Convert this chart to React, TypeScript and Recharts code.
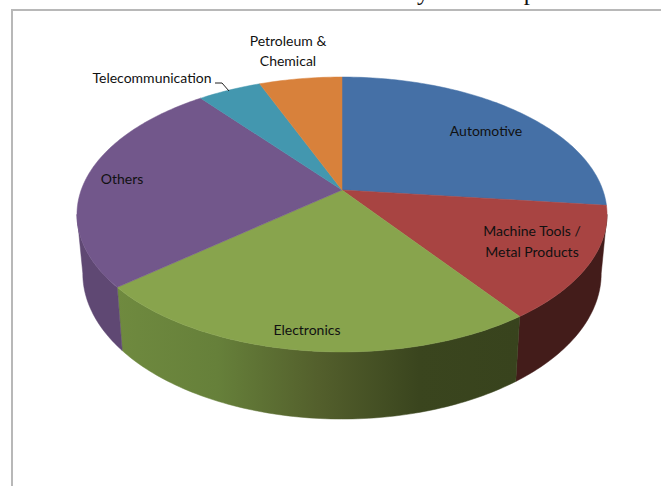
import { Pie, PieChart } from 'recharts'

const sectors = ['Automotive', 'Machine Tools / Metal Products', 'Electronics', 'Others', 'Telecommunication', 'Petroleum & Chemical']
const shares = [26.8, 13.3, 23.7, 25.6, 4.6, 6.0]
const topColors = ['#4570a6', '#a84442', '#88a44d', '#72578b', '#4397af', '#d8813b']
const wallColors = ['#2f4d73', '#431c1a', 'url(#greenWall)', '#5f4873', '#2f6a7a', '#96582a']

const chartData = sectors.map((name, i) => ({ name, value: shares[i], fill: topColors[i], wall: wallColors[i] }))

// hand placed label lines, one entry per sector
const labelLayout = [
  { x: 486, ys: [136], lines: ['Automotive'] },
  { x: 532, ys: [236, 257], lines: ['Machine Tools /', 'Metal Products'] },
  { x: 307, ys: [335], lines: ['Electronics'] },
  { x: 122, ys: [184], lines: ['Others'] },
  { x: 152, ys: [83], lines: ['Telecommunication'] },
  { x: 288, ys: [46, 66], lines: ['Petroleum &', 'Chemical'] },
]

// perspective of the tilted disc: top face and bottom face of the pie
const tilt = 0.178
const halfWidth = 260.8

function topRim(cx: number, cy: number, clock: number) {
  const u = Math.sin((clock * Math.PI) / 180)
  const v = -Math.cos((clock * Math.PI) / 180)
  const w = 1 - tilt * v
  return [cx + (halfWidth * u) / w, cy + (133.1 * v) / w]
}

function bottomRim(cx: number, cy: number, clock: number) {
  const u = Math.sin((clock * Math.PI) / 180)
  const v = -Math.cos((clock * Math.PI) / 180)
  const w = 1 - tilt * v
  return [cx + (0.978 * halfWidth * u) / w, cy + 57.5 + (141 * v) / w]
}

function arc(rim: typeof topRim, cx: number, cy: number, from: number, to: number) {
  const pts: number[][] = []
  const steps = Math.max(2, Math.ceil(Math.abs(to - from)))
  for (let i = 0; i <= steps; i++) pts.push(rim(cx, cy, from + ((to - from) * i) / steps))
  return pts
}

const toPath = (pts: number[][]) => 'M' + pts.map((p) => `${p[0].toFixed(2)},${p[1].toFixed(2)}`).join('L') + 'Z'

function TopFace(props: any) {
  const { cx, cy, startAngle, endAngle, fill } = props
  const pts = [[cx, cy], ...arc(topRim, cx, cy, 90 - startAngle, 90 - endAngle)]
  return <path d={toPath(pts)} fill={fill} stroke={fill} strokeWidth={0.5} />
}

function WallFace(props: any) {
  const { cx, cy, startAngle, endAngle, payload } = props
  // only the front of the disc shows a wall, between the two widest points
  const from = Math.max(90 - startAngle, 100.2)
  const to = Math.min(90 - endAngle, 259.8)
  if (to <= from) return null
  const pts = [...arc(topRim, cx, cy, from, to), ...arc(bottomRim, cx, cy, to, from)]
  const color = payload?.wall ?? props.wall
  return <path d={toPath(pts)} fill={color} stroke={color} strokeWidth={0.5} />
}

function SliceLabel(props: any) {
  const { index } = props
  const item = labelLayout[index]
  return (
    <g>
      {item.lines.map((line, i) => (
        <text
          key={line}
          x={item.x}
          y={item.ys[i]}
          textAnchor="middle"
          fontFamily="Lato, sans-serif"
          fontSize={14}
          fill="#111"
        >
          {line}
        </text>
      ))}
      {index === 4 && <path d="M215,83 L222,83 L229,91" fill="none" stroke="#222" strokeWidth={1} />}
    </g>
  )
}

export default function App() {
  return (
    <div style={{ position: 'absolute', left: 0, top: 0, width: 661, height: 486, overflow: 'hidden', background: '#fff' }}>
      <div style={{ position: 'absolute', left: 11, top: 9, width: 660, height: 490, border: '2px solid #b8b8b8', boxSizing: 'border-box' }} />
      <div
        style={{
          position: 'absolute',
          left: 14,
          top: -22,
          width: 640,
          fontFamily: 'Liberation Serif, serif',
          fontSize: 24.7,
          wordSpacing: 3.4,
          lineHeight: '28px',
          whiteSpace: 'nowrap',
          color: '#111',
        }}
      >
        of manufacturers based on the similarity of their products
      </div>
      <PieChart width={661} height={486} margin={{ top: 0, right: 0, bottom: 0, left: 0 }} style={{ position: 'absolute', left: 0, top: 0 }}>
        <defs>
          <linearGradient id="greenWall" x1="0" y1="0" x2="1" y2="0">
            <stop offset="0" stopColor="#6f8a3f" />
            <stop offset="0.25" stopColor="#66803a" />
            <stop offset="0.5" stopColor="#535f2c" />
            <stop offset="0.75" stopColor="#3a451e" />
            <stop offset="1" stopColor="#38431d" />
          </linearGradient>
        </defs>
        <Pie
          data={chartData}
          dataKey="value"
          nameKey="name"
          cx={342}
          cy={190}
          outerRadius={130}
          startAngle={90}
          endAngle={-270}
          shape={WallFace}
          isAnimationActive={false}
        />
        <Pie
          data={chartData}
          dataKey="value"
          nameKey="name"
          cx={342}
          cy={190}
          outerRadius={130}
          startAngle={90}
          endAngle={-270}
          shape={TopFace}
          label={SliceLabel}
          labelLine={false}
          isAnimationActive={false}
        />
      </PieChart>
    </div>
  )
}
